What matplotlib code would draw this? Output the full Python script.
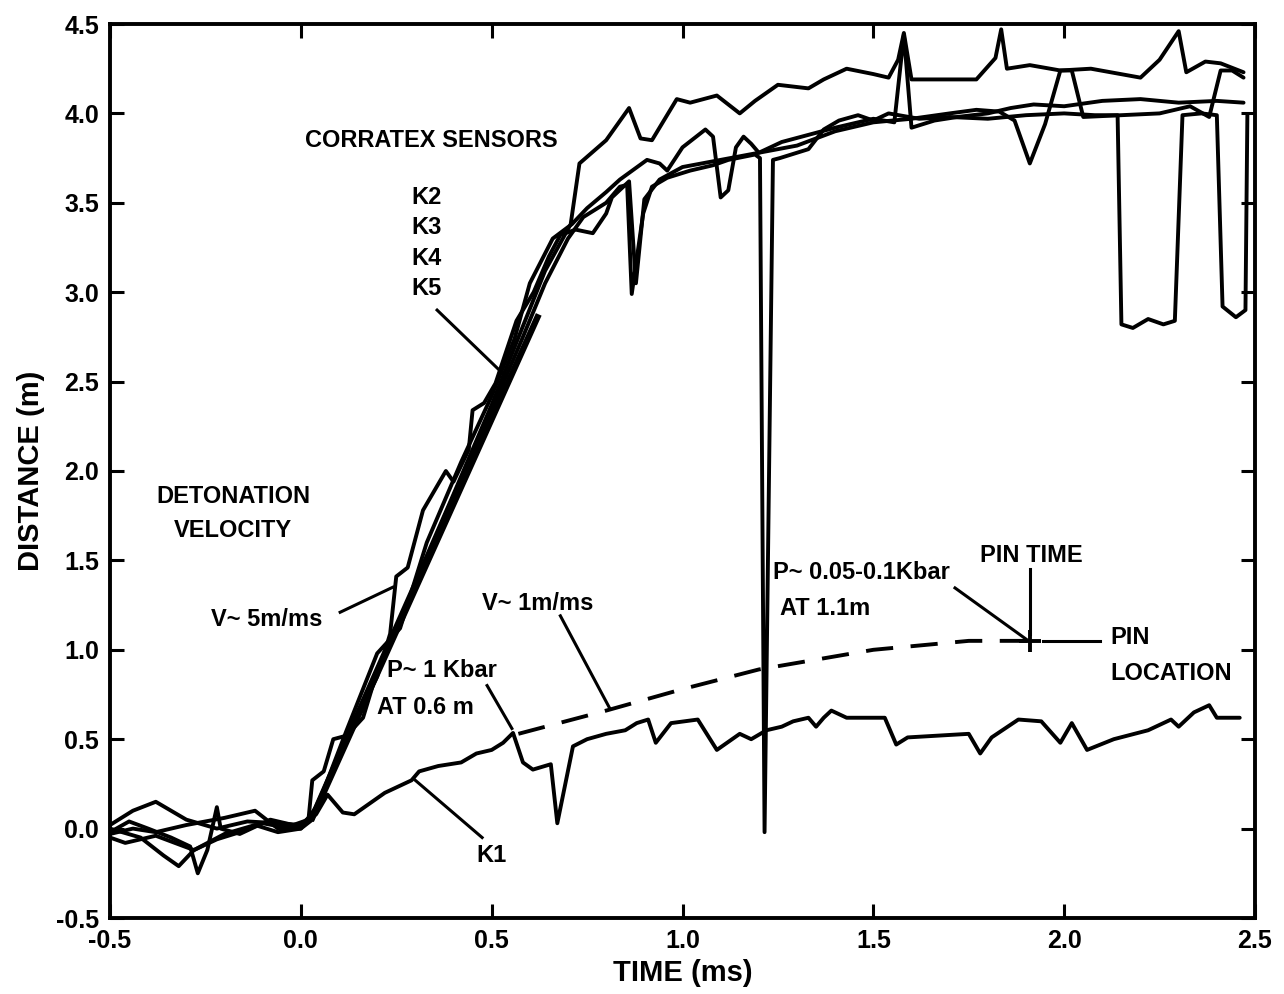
import numpy as np
import matplotlib.pyplot as plt

plt.rcParams['font.family'] = ['Liberation Sans', 'DejaVu Sans']
plt.rcParams['font.weight'] = 'bold'

# ---- traces (time in ms, distance in m) ----
k1_t = [-0.5, -0.46, -0.42, -0.38, -0.33, -0.28, -0.22, -0.16, -0.10, -0.05, 0.0, 0.04,
        0.07, 0.09, 0.11, 0.14, 0.18, 0.22, 0.26, 0.29, 0.31, 0.36, 0.42, 0.46, 0.50,
        0.53, 0.556, 0.582, 0.608, 0.655, 0.672, 0.713, 0.75, 0.80, 0.85, 0.88, 0.91,
        0.93, 0.97, 1.04, 1.09, 1.15, 1.18, 1.22, 1.26, 1.29, 1.33, 1.35, 1.37, 1.39,
        1.43, 1.53, 1.56, 1.59, 1.75, 1.78, 1.81, 1.88, 1.94, 1.99, 2.02, 2.06, 2.13,
        2.22, 2.28, 2.30, 2.34, 2.38, 2.40, 2.46]
k1_d = [-0.05, -0.08, -0.06, -0.04, -0.08, -0.12, -0.06, -0.02, 0.03, 0.01, 0.02, 0.08,
        0.19, 0.14, 0.09, 0.08, 0.14, 0.20, 0.24, 0.27, 0.32, 0.35, 0.37, 0.42, 0.44,
        0.48, 0.535, 0.37, 0.33, 0.36, 0.03, 0.46, 0.50, 0.53, 0.55, 0.59, 0.61,
        0.48, 0.59, 0.61, 0.44, 0.53, 0.50, 0.55, 0.57, 0.60, 0.62, 0.57, 0.62, 0.66,
        0.62, 0.62, 0.47, 0.51, 0.53, 0.42, 0.51, 0.61, 0.60, 0.48, 0.59, 0.44, 0.50,
        0.55, 0.61, 0.57, 0.65, 0.69, 0.62, 0.62]

k2_t = [-0.5, -0.44, -0.38, -0.34, -0.30, -0.22, -0.14, -0.06, 0.0, 0.03, 0.10, 0.20,
        0.30, 0.40, 0.50, 0.58, 0.64, 0.707, 0.73, 0.80, 0.86, 0.89, 0.92, 0.985, 1.02,
        1.09, 1.15, 1.19, 1.25, 1.33, 1.37, 1.43, 1.50, 1.54, 1.565, 1.58, 1.60, 1.67,
        1.77, 1.82, 1.835, 1.85, 1.91, 1.99, 2.07, 2.20, 2.25, 2.30, 2.32, 2.37, 2.41,
        2.47]
k2_d = [0.02, 0.10, 0.15, 0.10, 0.05, 0.0, 0.04, 0.03, 0.02, 0.08, 0.42, 0.90,
        1.38, 1.87, 2.37, 2.80, 3.12, 3.38, 3.72, 3.85, 4.03, 3.86, 3.85, 4.08, 4.06,
        4.10, 4.00, 4.07, 4.16, 4.14, 4.19, 4.25, 4.22, 4.20, 4.30, 4.45, 4.19, 4.19,
        4.19, 4.31, 4.47, 4.25, 4.27, 4.24, 4.25, 4.20, 4.30, 4.46, 4.23, 4.29, 4.28,
        4.23]

k3_t = [-0.5, -0.42, -0.36, -0.32, -0.28, -0.20, -0.12, -0.06, 0.0, 0.03, 0.12, 0.20,
        0.26, 0.33, 0.42, 0.50, 0.56, 0.60, 0.66, 0.71, 0.75, 0.80, 0.836, 0.907, 0.94,
        0.96, 1.0, 1.06, 1.08, 1.10, 1.12, 1.14, 1.16, 1.18, 1.20, 1.26, 1.33, 1.40,
        1.46, 1.50, 1.555, 1.58, 1.60, 1.66, 1.72, 1.80, 1.86, 1.92, 2.0, 2.1, 2.2,
        2.3, 2.4, 2.47]
k3_d = [0.0, -0.05, -0.15, -0.21, -0.12, -0.03, 0.02, -0.02, 0.0, 0.05, 0.55, 0.98,
        1.12, 1.60, 2.05, 2.42, 2.74, 3.05, 3.30, 3.38, 3.47, 3.56, 3.63, 3.74, 3.72,
        3.68, 3.81, 3.91, 3.87, 3.53, 3.57, 3.81, 3.87, 3.83, 3.78, 3.84, 3.88, 3.92,
        3.95, 3.97, 3.95, 4.44, 3.92, 3.96, 3.98, 4.00, 4.03, 4.05, 4.04, 4.07, 4.08,
        4.06, 4.07, 4.06]

k4_t = [-0.5, -0.45, -0.40, -0.34, -0.29, -0.27, -0.245, -0.22, -0.21, -0.16, -0.08,
        -0.02, 0.02, 0.03, 0.06, 0.085, 0.12, 0.163, 0.20, 0.30, 0.40, 0.50, 0.58,
        0.64, 0.70, 0.74, 0.80, 0.836, 0.855, 0.867, 0.897, 0.92, 0.96, 1.02, 1.08,
        1.12, 1.19, 1.203, 1.215, 1.237, 1.255, 1.33, 1.37, 1.41, 1.46, 1.50, 1.54,
        1.62, 1.70, 1.80, 1.90, 2.0, 2.08, 2.14, 2.15, 2.18, 2.22, 2.26, 2.29, 2.31,
        2.36, 2.40, 2.415, 2.45, 2.475, 2.48]
k4_d = [-0.02, 0.04, 0.0, -0.05, -0.10, -0.25, -0.12, 0.12, 0.0, -0.03, 0.05,
        0.02, 0.05, 0.27, 0.32, 0.50, 0.52, 0.62, 0.88, 1.36, 1.86, 2.34, 2.74,
        3.05, 3.30, 3.42, 3.50, 3.59, 3.60, 2.99, 3.44, 3.59, 3.64, 3.68, 3.71,
        3.74, 3.77, 3.75, -0.02, 3.74, 3.75, 3.80, 3.91, 3.96, 3.99, 3.96, 4.00,
        3.97, 3.98, 3.97, 3.99, 4.00, 3.99, 3.99, 2.82, 2.80, 2.85, 2.82, 2.84, 3.99,
        4.00, 3.99, 2.92, 2.86, 2.90, 3.99]

k5_t = [-0.5, -0.44, -0.38, -0.30, -0.20, -0.12, -0.06, 0.0, 0.05, 0.12, 0.20, 0.234,
        0.25, 0.28, 0.32, 0.38, 0.40, 0.44, 0.45, 0.48, 0.51, 0.565, 0.61, 0.65, 0.68,
        0.72, 0.765, 0.80, 0.815, 0.84, 0.86, 0.878, 0.90, 0.94, 1.0, 1.1, 1.2, 1.3,
        1.4, 1.5, 1.6, 1.7, 1.77, 1.83, 1.87, 1.91, 1.95, 1.99, 2.02, 2.05, 2.15,
        2.25, 2.33, 2.38, 2.41, 2.44, 2.47]
k5_d = [-0.03, 0.0, -0.02, 0.02, 0.06, 0.10, 0.0, 0.0, 0.15, 0.50, 0.85, 1.09,
        1.41, 1.46, 1.78, 2.00, 1.94, 2.12, 2.34, 2.38, 2.49, 2.84, 3.0, 3.20, 3.32,
        3.35, 3.33, 3.44, 3.53, 3.58, 3.62, 3.05, 3.52, 3.63, 3.70, 3.74, 3.78, 3.82,
        3.90, 3.95, 3.97, 4.00, 4.02, 4.01, 3.96, 3.72, 3.94, 4.24, 4.24, 3.98, 3.99,
        4.00, 4.04, 3.98, 4.24, 4.24, 4.20]

# straight fit through the detonation front and the slower wave
v5_t = [0.03, 0.62]
v5_d = [0.06, 2.86]
v1_t = [0.57, 0.80, 1.00, 1.20, 1.50, 1.75, 1.91]
v1_d = [0.53, 0.66, 0.78, 0.89, 1.00, 1.05, 1.05]

pin_t = 1.91
pin_d = 1.05

fig = plt.figure(figsize=(12.84, 9.94), dpi=100)
ax = fig.add_axes([110/1284, 1 - 918/994, 1145/1284, 894/994])

lw = 2.8
for t, d in [(k1_t, k1_d), (k2_t, k2_d), (k3_t, k3_d), (k4_t, k4_d), (k5_t, k5_d)]:
    ax.plot(t, d, color='black', lw=lw, solid_joinstyle='round', solid_capstyle='round')

ax.plot(v5_t, v5_d, color='black', lw=4.5)
ax.plot(v1_t, v1_d, color='black', lw=lw, dashes=(7, 4.5))
ax.plot(pin_t, pin_d, marker='+', color='black', ms=16, mew=2.8)

#---- labels and leader lines ----#
fs = 17
ax.text(0.012, 3.85, 'CORRATEX SENSORS', fontsize=fs, va='center')
for i, k in enumerate(['K2', 'K3', 'K4', 'K5']):
    ax.text(0.33, 3.53 - i*0.17, k, fontsize=fs, va='center', ha='center')
ax.text(-0.177, 1.86, 'DETONATION', fontsize=fs, va='center', ha='center')
ax.text(-0.177, 1.67, 'VELOCITY', fontsize=fs, va='center', ha='center')
ax.text(-0.09, 1.17, 'V~ 5m/ms', fontsize=fs, va='center', ha='center')
ax.text(0.62, 1.26, 'V~ 1m/ms', fontsize=fs, va='center', ha='center')
ax.text(0.226, 0.885, 'P~ 1 Kbar', fontsize=fs, va='center')
ax.text(0.20, 0.68, 'AT 0.6 m', fontsize=fs, va='center')
ax.text(0.50, -0.15, 'K1', fontsize=fs, va='center', ha='center')
ax.text(1.237, 1.43, 'P~ 0.05-0.1Kbar', fontsize=fs, va='center')
ax.text(1.255, 1.23, 'AT 1.1m', fontsize=fs, va='center')
ax.text(1.915, 1.53, 'PIN TIME', fontsize=fs, va='center', ha='center')
ax.text(2.12, 1.07, 'PIN', fontsize=fs, va='center')
ax.text(2.12, 0.87, 'LOCATION', fontsize=fs, va='center')

leaders = [((0.357, 2.90), (0.527, 2.55)),
           ((0.103, 1.21), (0.241, 1.35)),
           ((0.68, 1.19), (0.81, 0.67)),
           ((0.488, 0.80), (0.553, 0.56)),
           ((0.475, -0.05), (0.30, 0.27)),
           ((1.714, 1.346), (1.90, 1.06)),
           ((1.91, 1.45), (1.91, 1.09)),
           ((1.944, 1.05), (2.094, 1.05))]
for a, b in leaders:
    ax.plot([a[0], b[0]], [a[1], b[1]], color='black', lw=2.2)

ax.set_xlim(-0.5, 2.5)
ax.set_ylim(-0.5, 4.5)
ax.set_xticks(np.arange(-0.5, 2.51, 0.5))
ax.set_yticks(np.arange(-0.5, 4.51, 0.5))
ax.set_xticklabels(['%.1f' % v for v in np.arange(-0.5, 2.51, 0.5)])
ax.set_yticklabels(['%.1f' % v for v in np.arange(-0.5, 4.51, 0.5)])
ax.tick_params(direction='in', length=10, width=2.2, labelsize=18, top=True, right=True, pad=8)
for s in ax.spines.values():
    s.set_linewidth(2.8)
ax.set_xlabel('TIME (ms)', fontsize=21, fontweight='bold', labelpad=4)
ax.set_ylabel('DISTANCE (m)', fontsize=21, fontweight='bold', labelpad=8)

plt.savefig('out.png', dpi=100)
